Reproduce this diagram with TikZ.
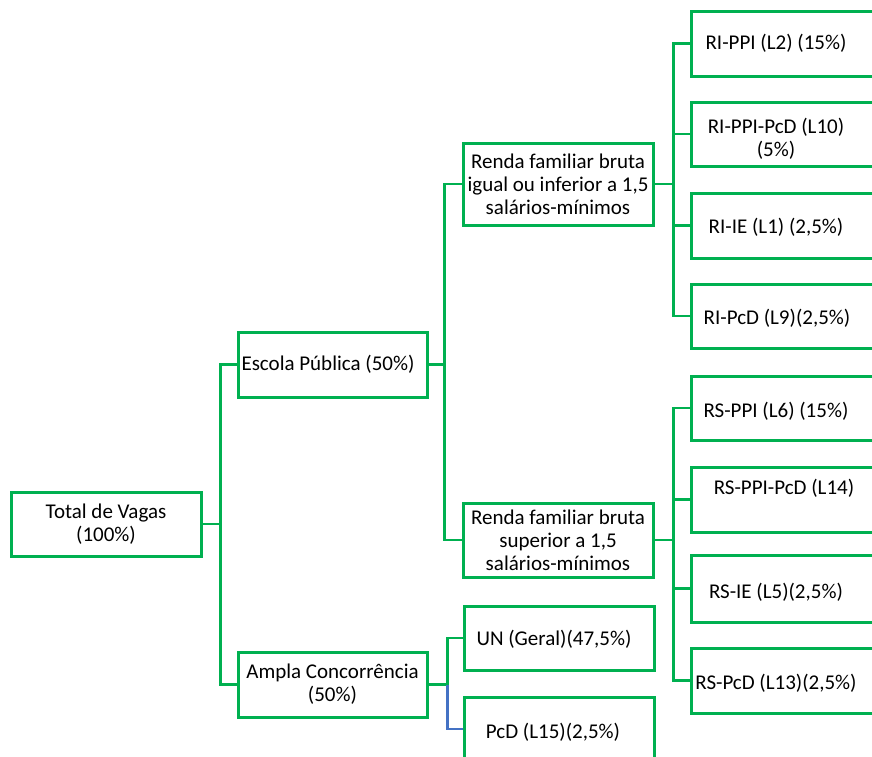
\documentclass[tikz,border=0pt]{standalone}
\usepackage{fontspec}
\setmainfont{Carlito}
\definecolor{og}{RGB}{0,176,80}
\definecolor{ob}{RGB}{68,114,196}
\begin{document}
\begin{tikzpicture}[x=1pt,y=-1pt,
  box/.style={draw=og,line width=3pt,fill=white,inner sep=0pt,
    align=center,font=\fontsize{21}{23}\selectfont,minimum width=190pt,minimum height=64pt},
  rbox/.style={draw=og,line width=3pt,fill=white,inner sep=0pt,
    minimum width=200pt,minimum height=65pt,anchor=west},
  txt/.style={inner sep=0pt,align=center,font=\fontsize{21}{23}\selectfont},
  conn/.style={draw=og,line width=2.8pt},
  connb/.style={draw=ob,line width=2.8pt}]
\useasboundingbox (0,0) rectangle (872,756);
\clip (0,0) rectangle (872,756);
% left column
\node[box] (total) at (106,524) {Total de Vagas\\(100\%)};
\node[box,minimum width=189pt,minimum height=65pt] (escola) at (332.5,364.5) {};
\node[txt] (escolat) at (328,364) {Escola Pública (50\%)};
\node[box,minimum width=189pt,minimum height=65pt] (ampla) at (332.5,684.5) {Ampla Concorrência\\(50\%)};
% middle column
\node[box,minimum height=82pt] (renda1) at (558,184) {Renda familiar bruta\\igual ou inferior a 1,5\\salários-mínimos};
\node[box,minimum height=74pt] (renda2) at (558,540) {Renda familiar bruta\\superior a 1,5\\salários-mínimos};
\node[box] (un) at (559,638) {};
\node[txt] (unt) at (554,639) {UN (Geral)(47,5\%)};
\node[box] (pcd) at (559,729) {};
\node[txt] (pcdt) at (553,732) {PcD (L15)(2,5\%)};
% right column
\node[rbox] (ri1) at (690,43.5) {};
\node[rbox,minimum height=64pt] (ri2) at (690,134) {};
\node[rbox] (ri3) at (690,225.5) {};
\node[rbox,minimum height=64pt] (ri4) at (690,316) {};
\node[rbox,minimum height=64pt] (rs1) at (690,408) {};
\node[rbox] (rs2) at (690,499.5) {};
\node[rbox,minimum height=67pt] (rs3) at (690,588.5) {};
\node[rbox] (rs4) at (690,680.5) {};
\node[txt] (ri1t) at (776,43) {RI-PPI (L2) (15\%)};
\node[txt] (ri2t) at (776,139) {RI-PPI-PcD (L10)\\(5\%)};
\node[txt] (ri3t) at (776,227) {RI-IE (L1) (2,5\%)};
\node[txt] (ri4t) at (777,318) {RI-PcD (L9)(2,5\%)};
\node[txt] (rs1t) at (776,411) {RS-PPI (L6) (15\%)};
\node[txt] (rs2t) at (784,488) {RS-PPI-PcD (L14)};
\node[txt] (rs3t) at (776,592) {RS-IE (L5)(2,5\%)};
\node[txt] (rs4t) at (776,683) {RS-PcD (L13)(2,5\%)};
% connectors
\draw[conn] (total.east) -- ++(18,0) coordinate (j1) |- (escola.west);
\draw[conn] (j1) |- (ampla.west);
\draw[conn] (escola.east) -- ++(16,0) coordinate (j2) |- (renda1.west);
\draw[conn] (j2) |- (renda2.west);
\draw[conn] (renda1.east) -- ++(19,0) coordinate (j3) |- (ri1.west);
\draw[conn] (j3) |- (ri2.west);
\draw[conn] (j3) |- (ri3.west);
\draw[conn] (j3) |- (ri4.west);
\draw[conn] (renda2.east) -- ++(19,0) coordinate (j4) |- (rs1.west);
\draw[conn] (j4) |- (rs2.west);
\draw[conn] (j4) |- (rs3.west);
\draw[conn] (j4) |- (rs4.west);
\draw[conn] (ampla.east) -- ++(19,0) coordinate (j5) |- (un.west);
\draw[connb] (j5) |- (pcd.west);
\end{tikzpicture}
\end{document}
